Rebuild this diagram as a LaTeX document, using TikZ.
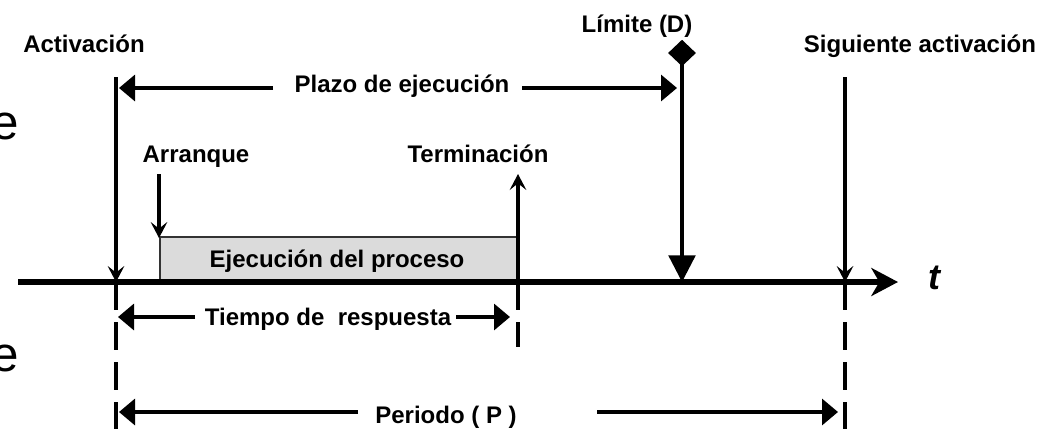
\documentclass[tikz,border=0pt]{standalone}
\usepackage{fontspec}
\setmainfont{Liberation Sans}
\usetikzlibrary{arrows.meta,shapes.geometric}
\tikzset{
  lbl/.style={font=\fontsize{18}{21}\selectfont\bfseries, inner sep=0pt, anchor=base},
  vline/.style={line width=2.5pt},
  dline/.style={line width=2.5pt, dash pattern=on 21pt off 9pt},
  bigarr/.style={line width=2.5pt, -{Triangle[length=12pt,width=19.5pt]}},
  smallarr/.style={line width=2.5pt, -{Stealth[length=12pt,width=12.5pt,inset=5pt]}},
}
\begin{document}
\begin{tikzpicture}[x=0.75pt,y=-0.75pt]
\useasboundingbox (0,0) rectangle (1059,429);
% process box
\node[draw=black!80, line width=1.3pt, fill=black!14, minimum width=269.25pt, minimum height=33pt, inner sep=0pt, anchor=south west] (box) at (159,282) {};
\node[lbl] (ejec) at (337,267) {Ejecución del proceso};
% time axis
\coordinate (ax0) at (18,282);
\coordinate (ax1) at (898,282);
\draw[line width=3.9pt, -{Stealth[length=20pt,width=21pt,inset=6pt]}] (ax0) -- (ax1);
\node[font=\fontsize{27}{30}\selectfont\bfseries\itshape, inner sep=0pt, anchor=base] (t) at (934,289) {t};
% labels
\node[lbl] (act) at (84,52) {Activación};
\node[lbl] (lim) at (637,32) {Límite (D)};
\node[lbl] (sig) at (920,52) {Siguiente activación};
\node[lbl] (plazo) at (402,92) {Plazo de ejecución};
\node[lbl] (arr) at (196,162) {Arranque};
\node[lbl] (term) at (478,162) {Terminación};
\node[lbl] (resp) at (328,325) {Tiempo de\ \ respuesta};
\node[lbl] (per) at (446,423) {Periodo ( P )};
% cut-off letters at the left edge, as in the reference
\node[font=\fontsize{37}{40}\selectfont, inner sep=0pt, anchor=base east] (e1) at (19,139) {e};
\node[font=\fontsize{37}{40}\selectfont, inner sep=0pt, anchor=base east] (e2) at (19,371) {e};
% coordinates
\coordinate (a0) at (116,77);
\coordinate (a1) at (116,282);
\coordinate (a2) at (116,429);
\coordinate (s0) at (845,77);
\coordinate (s1) at (845,282);
\coordinate (s2) at (845,429);
\coordinate (r0) at (159,174);
\coordinate (r1) at (159,238);
\coordinate (m0) at (518,282);
\coordinate (m1) at (518,174);
\coordinate (m2) at (518,347);
\node[diamond, fill=black, inner sep=0pt, minimum width=21pt, minimum height=20pt] (dia) at (682,53) {};
\coordinate (l1) at (682,282);
% vertical lines
\draw[smallarr] (a0) -- (a1);
\draw[dline] (a1) -- (a2);
\draw[smallarr] (s0) -- (s1);
\draw[dline] (s1) -- (s2);
\draw[smallarr] (r0) -- (r1);
\draw[smallarr] (m0) -- (m1);
\draw[dline] (m0) -- (m2);
\draw[line width=2.5pt, -{Triangle[length=20pt,width=20pt]}] (dia.center) -- (l1);
% Plazo
\coordinate (p1) at (273,88);
\coordinate (p2) at (522,88);
\coordinate (pL) at (119,88);
\coordinate (pR) at (677,88);
\draw[bigarr] (p1) -- (pL);
\draw[bigarr] (p2) -- (pR);
% Tiempo de respuesta
\coordinate (t1) at (195,317);
\coordinate (t2) at (456,317);
\coordinate (tL) at (118,317);
\coordinate (tR) at (510,317);
\draw[bigarr] (t1) -- (tL);
\draw[bigarr] (t2) -- (tR);
% Periodo
\coordinate (q1) at (358,412);
\coordinate (q2) at (597,412);
\coordinate (qL) at (119,412);
\coordinate (qR) at (838,412);
\draw[bigarr] (q1) -- (qL);
\draw[bigarr] (q2) -- (qR);
\end{tikzpicture}
\end{document}
